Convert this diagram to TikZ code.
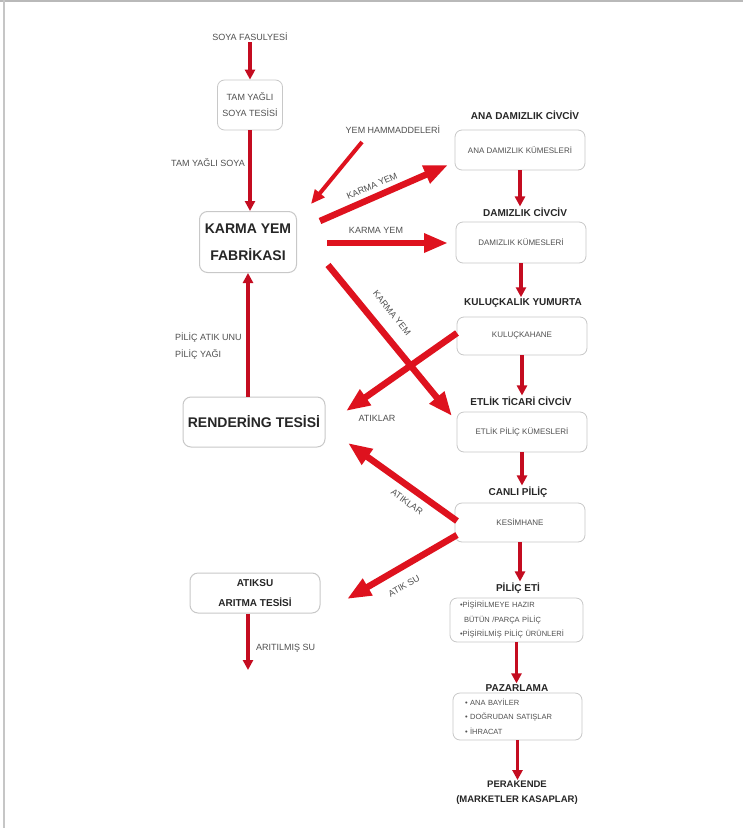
\documentclass[tikz,border=0pt]{standalone}
\usepackage{fontspec}
\setmainfont{Liberation Sans}
\usetikzlibrary{arrows.meta}
\definecolor{arrred}{RGB}{222,18,30}
\definecolor{darkred}{RGB}{196,12,32}
\definecolor{txtgray}{RGB}{80,80,80}
\definecolor{boxgray}{RGB}{200,200,200}
\begin{document}
\begin{tikzpicture}[x=1pt,y=-1pt,
  lbl/.style={font=\fontsize{9}{11}\selectfont, text=txtgray, inner sep=1pt},
  hdr/.style={font=\bfseries\fontsize{10}{12}\selectfont, text=black!85, inner sep=1pt},
  rbox/.style={draw=boxgray, line width=0.8pt, rounded corners=7pt, minimum width=130pt, minimum height=40pt, font=\fontsize{8}{10}\selectfont, text=txtgray},
  bigbox/.style={draw=boxgray, line width=1pt, rounded corners=8pt, font=\bfseries\fontsize{14}{27}\selectfont, text=black!85, align=center},
  varrow/.style={draw=darkred, line width=3.5pt, -{Triangle[length=10pt,width=10pt]}},
  tarrow/.style={draw=arrred, line width=6.5pt, -{Triangle[length=24pt,width=18pt]}},
  marrow/.style={draw=arrred, line width=4pt, -{Triangle[length=14pt,width=12pt]}},
]
\useasboundingbox (0,0) rectangle (743,828);
\fill[white] (0,0) rectangle (743,828);
\draw[gray!55, line width=1.2pt] (0,1) -- (743,1);
\draw[gray!45, line width=1.2pt] (4,0) -- (4,828);

% left column
\node[lbl] (soya) at (250,37) {SOYA FASULYESİ};
\node[rbox, minimum width=65pt, minimum height=50pt, align=center, font=\fontsize{9}{16}\selectfont] (tam) at (250,105) {TAM YAĞLI\\SOYA TESİSİ};
\draw[varrow] (soya) -- (tam);
\node[bigbox, minimum width=97pt, minimum height=61pt] (karma) at (248,242) {KARMA YEM\\FABRİKASI};
\draw[varrow] (tam.south) -- (tam.south |- karma.north);
\node[lbl] (tysoya) at (208,163) {TAM YAĞLI SOYA};
\node[bigbox, minimum width=142pt, minimum height=50pt] (rend) at (254,422) {RENDERİNG TESİSİ};
\draw[varrow] (rend.north -| karma.south) -- (karma.south);
\node[lbl, anchor=west, align=left, font=\fontsize{9}{17}\selectfont] (pilic) at (174,346) {PİLİÇ ATIK UNU\\PİLİÇ YAĞI};
\node[bigbox, font=\bfseries\fontsize{10}{20}\selectfont, minimum width=130pt, minimum height=40pt] (atik) at (255,593) {ATIKSU\\ARITMA TESİSİ};
\coordinate (aritend) at (248,670);
\draw[varrow] (atik.south -| aritend) -- (aritend);
\node[lbl, anchor=west] (aritlbl) at (255,648) {ARITILMIŞ SU};

% right column
\node[hdr] (anahdr) at (525,115) {ANA DAMIZLIK CİVCİV};
\node[rbox] (anabox) at (520,150) {ANA DAMIZLIK KÜMESLERİ};
\node[hdr] (damhdr) at (525,212) {DAMIZLIK CİVCİV};
\node[rbox, minimum height=41pt] (dambox) at (521,242.5) {DAMIZLIK KÜMESLERİ};
\node[hdr] (kulhdr) at (523,303) {KULUÇKALIK YUMURTA};
\node[rbox, minimum height=38pt] (kulbox) at (522,336) {KULUÇKAHANE};
\node[hdr] (ethdr) at (521,401) {ETLİK TİCARİ CİVCİV};
\node[rbox] (etbox) at (522,432) {ETLİK PİLİÇ KÜMESLERİ};
\node[hdr] (canhdr) at (518,492) {CANLI PİLİÇ};
\node[rbox, minimum height=39pt] (kesbox) at (520,522.5) {KESİMHANE};
\node[hdr] (etihdr) at (518,588) {PİLİÇ ETİ};
\node[rbox, minimum width=133pt, minimum height=44pt, align=left, text width=113pt, inner xsep=10pt, font=\fontsize{7.5}{14.5}\selectfont] (etibox) at (516.5,620) {•PİŞİRİLMEYE HAZIR\\\hspace*{4pt}BÜTÜN /PARÇA PİLİÇ\\•PİŞİRİLMİŞ PİLİÇ ÜRÜNLERİ};
\node[hdr] (pazhdr) at (517,688) {PAZARLAMA};
\node[rbox, minimum width=129pt, minimum height=47pt, align=left, text width=105pt, inner xsep=12pt, font=\fontsize{7.5}{14.5}\selectfont] (pazbox) at (517.5,716.5) {• ANA BAYİLER\\• DOĞRUDAN SATIŞLAR\\• İHRACAT};
\node[hdr, align=center, font=\bfseries\fontsize{9.5}{15}\selectfont] (perhdr) at (517,793) {PERAKENDE\\(MARKETLER KASAPLAR)};

\draw[varrow] (anabox.south) -- (anabox.south |- damhdr.north);
\draw[varrow] (dambox.south) -- (dambox.south |- kulhdr.north);
\draw[varrow] (kulbox.south) -- (kulbox.south |- ethdr.north);
\draw[varrow] (etbox.south) -- (etbox.south |- canhdr.north);
\draw[varrow] (kesbox.south) -- (kesbox.south |- etihdr.north);
\draw[varrow] (etibox.south) -- (etibox.south |- pazhdr.north);
\draw[varrow] (pazbox.south) -- (pazbox.south |- perhdr.north);

% thick arrows
\coordinate (y1) at (362,142);
\coordinate (y2) at (311,204);
\draw[marrow] (y1) -- (y2);
\node[lbl] (yemlbl) at (393,130) {YEM HAMMADDELERİ};

\coordinate (k1s) at (320,221);
\coordinate (k1e) at (448,165);
\draw[tarrow] (k1s) -- (k1e);
\node[lbl, rotate=23.5] (k1lbl) at (372,186) {KARMA YEM};

\coordinate (k2s) at (327,243);
\coordinate (k2e) at (448,243);
\draw[tarrow] (k2s) -- (k2e);
\node[lbl] (k2lbl) at (376,230) {KARMA YEM};

\coordinate (k3s) at (328,265);
\coordinate (k3e) at (452,416);
\draw[tarrow] (k3s) -- (k3e);
\node[lbl, rotate=-51] (k3lbl) at (392,313) {KARMA YEM};

\coordinate (a1s) at (457,333);
\coordinate (a1e) at (346,411);
\draw[tarrow] (a1s) -- (a1e);
\node[lbl] (a1lbl) at (377,418) {ATIKLAR};

\coordinate (a2s) at (457,521);
\coordinate (a2e) at (348,443);
\draw[tarrow] (a2s) -- (a2e);
\node[lbl, rotate=-36] (a2lbl) at (407,502) {ATIKLAR};

\coordinate (a3s) at (457,535);
\coordinate (a3e) at (347,599);
\draw[tarrow] (a3s) -- (a3e);
\node[lbl, rotate=30] (a3lbl) at (404,586) {ATIK SU};
\end{tikzpicture}
\end{document}
